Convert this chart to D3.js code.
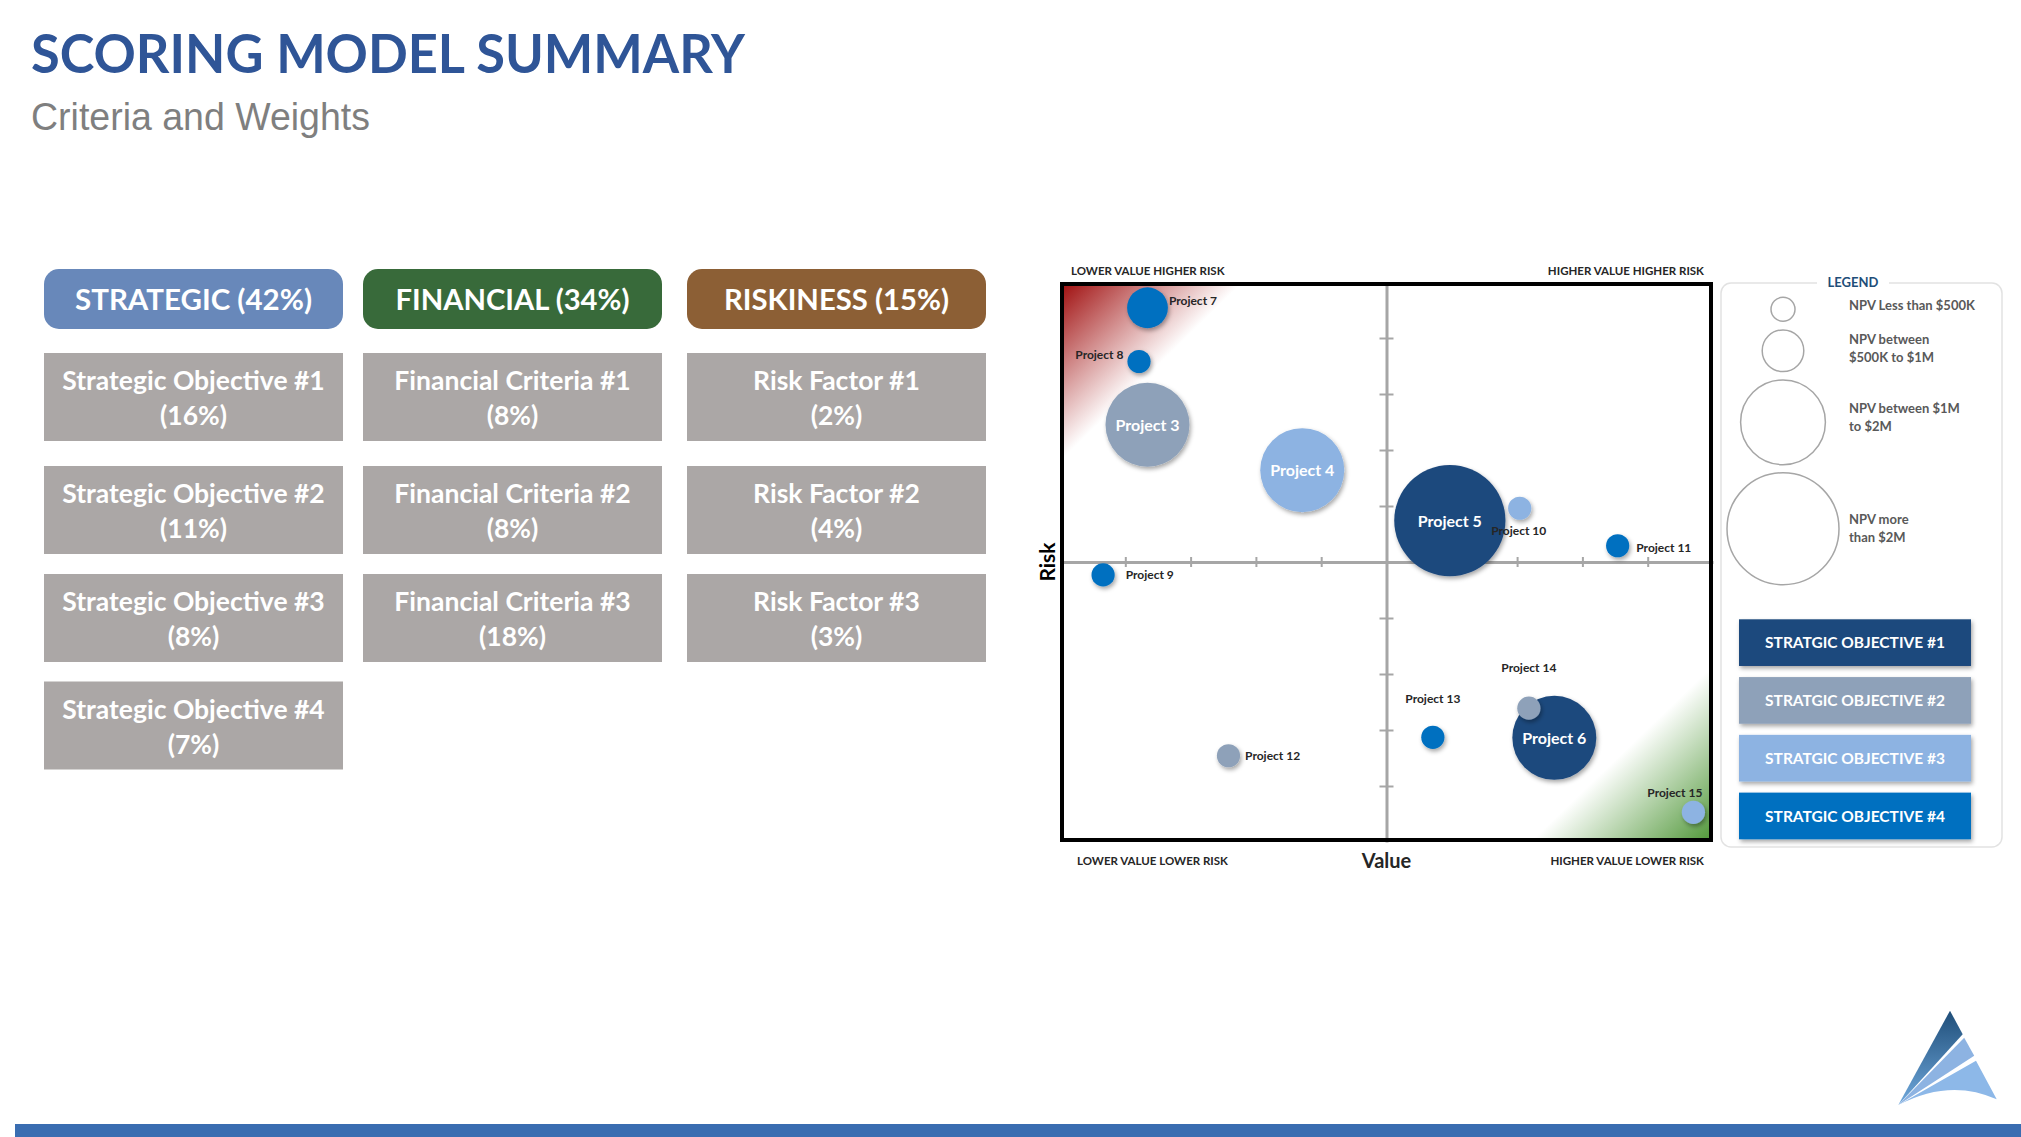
<!DOCTYPE html>
<html><head><meta charset="utf-8">
<script src="https://cdn.jsdelivr.net/npm/d3@7"></script>
<style>
html,body{margin:0;padding:0;background:#fff;}
svg{display:block;}
</style></head>
<body>
<svg id="chart" width="2021" height="1137"></svg>
<script>
// ---------------- data ----------------
const pageTitle = "SCORING MODEL SUMMARY";
const pageSubtitle = "Criteria and Weights";
const categoryNames = ["STRATEGIC", "FINANCIAL", "RISKINESS"];
const categoryWeights = [42, 34, 15];
const strategicCriteria = ["Strategic Objective #1", "Strategic Objective #2", "Strategic Objective #3", "Strategic Objective #4"];
const strategicWeights = [16, 11, 8, 7];
const financialCriteria = ["Financial Criteria #1", "Financial Criteria #2", "Financial Criteria #3"];
const financialWeights = [8, 8, 18];
const riskCriteria = ["Risk Factor #1", "Risk Factor #2", "Risk Factor #3"];
const riskWeights = [2, 4, 3];

const projectNames = ["Project 3", "Project 4", "Project 5", "Project 6", "Project 7", "Project 8", "Project 9", "Project 10", "Project 11", "Project 12", "Project 13", "Project 14", "Project 15"];
const projectValue = [1.34, 3.71, 5.97, 7.57, 1.34, 1.21, 0.66, 7.04, 8.54, 2.58, 5.71, 7.18, 9.70];
const projectRisk  = [7.45, 6.64, 5.74, 1.86, 9.54, 8.58, 4.77, 5.96, 5.29, 1.54, 1.87, 2.39, 0.53];
const projectNpvClass  = [3, 3, 4, 3, 2, 1, 1, 1, 1, 1, 1, 1, 1];
const projectObjective = [2, 3, 1, 1, 4, 4, 4, 3, 4, 2, 4, 2, 3];

const npvClasses = [1, 2, 3, 4];
const npvLabels = [["NPV Less than $500K"], ["NPV between", "$500K to $1M"], ["NPV between $1M", "to $2M"], ["NPV more", "than $2M"]];
const objectiveIds = [1, 2, 3, 4];
const objectiveLabels = ["STRATGIC OBJECTIVE #1", "STRATGIC OBJECTIVE #2", "STRATGIC OBJECTIVE #3", "STRATGIC OBJECTIVE #4"];
const quadrantLabels = ["LOWER VALUE HIGHER RISK", "HIGHER VALUE HIGHER RISK", "LOWER VALUE LOWER RISK", "HIGHER VALUE LOWER RISK"];
const axisTickValues = [1, 2, 3, 4, 6, 7, 8, 9];
const xAxisTitle = "Value";
const yAxisTitle = "Risk";

// ---------------- styles / layout ----------------
const FONT = "Lato, 'Open Sans', sans-serif";
const objectiveColors = ["#1F497D", "#8EA1B9", "#8DB3E2", "#0070C0"];
const npvRadii = [11.6, 20.4, 42, 55.6];
const headerColors = ["#6888BA", "#386A3A", "#8C5F35"];
const boxColor = "#ABA7A6";
const colLefts = [44, 363, 687];
const colWidth = 299;
const rowTops = [353, 466, 574, 681.5];
const rowHeight = 88;
const labelPlacement = {
  "Project 3":  {side: "inside"},
  "Project 4":  {side: "inside"},
  "Project 5":  {side: "inside"},
  "Project 6":  {side: "inside"},
  "Project 7":  {side: "right", off: 1, dy: -3},
  "Project 8":  {side: "left", off: 4, dy: -3},
  "Project 9":  {side: "right", off: 11, dy: 4},
  "Project 10": {side: "center", off: -1, dy: 27},
  "Project 11": {side: "right", off: 7, dy: 6},
  "Project 12": {side: "right", off: 5, dy: 4.5},
  "Project 13": {side: "center", off: 0, dy: -34},
  "Project 14": {side: "center", off: 0, dy: -36.5},
  "Project 15": {side: "end", off: 9, dy: -15.6}
};

const svg = d3.select("#chart");
const defs = svg.append("defs");

function fit(sel, w) { sel.attr("textLength", w).attr("lengthAdjust", "spacingAndGlyphs"); return sel; }

// shadow filter
const sh = defs.append("filter").attr("id", "shadow").attr("x", "-30%").attr("y", "-30%").attr("width", "160%").attr("height", "160%");
sh.append("feDropShadow").attr("dx", 1.5).attr("dy", 2.5).attr("stdDeviation", 2).attr("flood-color", "#000").attr("flood-opacity", 0.35);

// ---------------- title ----------------
fit(svg.append("text").attr("x", 31).attr("y", 73).text(pageTitle)
  .attr("font-family", FONT).attr("font-weight", 700).attr("font-size", 53).attr("fill", "#2F5597"), 714);
fit(svg.append("text").attr("x", 31).attr("y", 130).text(pageSubtitle)
  .attr("font-family", "'Liberation Sans', Arial, sans-serif").attr("font-size", 38).attr("fill", "#7F7F7F"), 339);

// ---------------- criteria boxes ----------------
const headerW = [237, 234, 225];
const columns = [
  {crit: strategicCriteria, w: strategicWeights},
  {crit: financialCriteria, w: financialWeights},
  {crit: riskCriteria, w: riskWeights}
];
categoryNames.forEach((name, i) => {
  const x0 = colLefts[i], bw = colWidth;
  svg.append("rect").attr("x", x0).attr("y", 269).attr("width", bw).attr("height", 60)
    .attr("rx", 15).attr("fill", headerColors[i]);
  fit(svg.append("text").attr("x", x0 + bw / 2).attr("y", 310).attr("text-anchor", "middle")
    .attr("font-family", FONT).attr("font-weight", 700).attr("font-size", 29).attr("fill", "#fff")
    .text(`${name} (${categoryWeights[i]}%)`), headerW[i]);
  const col = columns[i];
  col.crit.forEach((c, j) => {
    const y0 = rowTops[j];
    svg.append("rect").attr("x", x0).attr("y", y0).attr("width", bw).attr("height", rowHeight).attr("fill", boxColor);
    svg.append("text").attr("x", x0 + bw / 2).attr("y", y0 + 37).attr("text-anchor", "middle")
      .attr("font-family", FONT).attr("font-weight", 700).attr("font-size", 26.5).attr("fill", "#fff").text(c);
    svg.append("text").attr("x", x0 + bw / 2).attr("y", y0 + 72).attr("text-anchor", "middle")
      .attr("font-family", FONT).attr("font-weight", 700).attr("font-size", 26.5).attr("fill", "#fff").text(`(${col.w[j]}%)`);
  });
});

// ---------------- bubble chart ----------------
const x = d3.scaleLinear().domain([0, 10]).range([1060, 1713]);
const y = d3.scaleLinear().domain([0, 10]).range([842, 282]);
const r = d3.scaleOrdinal().domain(npvClasses).range(npvRadii);
const color = d3.scaleOrdinal().domain(objectiveIds).range(objectiveColors);

const plot = svg.append("g");
plot.append("clipPath").attr("id", "plotclip").append("rect")
  .attr("x", x(0) + 4).attr("y", y(10) + 4).attr("width", x(10) - x(0) - 8).attr("height", y(0) - y(10) - 8);
plot.append("rect").attr("x", x(0)).attr("y", y(10)).attr("width", x(10) - x(0)).attr("height", y(0) - y(10)).attr("fill", "#fff");

function cornerGradient(id, corner, p1, p2, c0) {
  const dx = p2[0] - p1[0], dy = p2[1] - p1[1];
  const t = ((corner[0] - p1[0]) * dx + (corner[1] - p1[1]) * dy) / (dx * dx + dy * dy);
  const foot = [p1[0] + t * dx, p1[1] + t * dy];
  const g = defs.append("linearGradient").attr("id", id).attr("gradientUnits", "userSpaceOnUse")
    .attr("x1", corner[0]).attr("y1", corner[1]).attr("x2", foot[0]).attr("y2", foot[1]);
  g.append("stop").attr("offset", 0).attr("stop-color", c0);
  g.append("stop").attr("offset", 1).attr("stop-color", "#fff");
  plot.append("path").attr("clip-path", "url(#plotclip)")
    .attr("d", `M${corner}L${p1}L${p2}Z`).attr("fill", `url(#${id})`);
}
cornerGradient("redG", [x(0), y(10)], [x(2.8), y(10)], [x(0), y(6.8)], "#9E0A0A");
cornerGradient("greenG", [x(10), y(0)], [x(7.2), y(0)], [x(10), y(3.15)], "#4E9636");

// axes through centre
const axisColor = "#A6A6A6";
const xAxis = d3.axisBottom(x).tickValues(axisTickValues).tickFormat("").tickSize(5).tickSizeOuter(0);
const gx = plot.append("g").attr("transform", `translate(0,${y(5)})`).call(xAxis);
gx.select(".domain").attr("stroke", axisColor).attr("stroke-width", 3);
gx.selectAll(".tick line").attr("y1", -5).attr("y2", 5).attr("stroke", axisColor).attr("stroke-width", 2);
const yAxis = d3.axisLeft(y).tickValues(axisTickValues).tickFormat("").tickSize(7).tickSizeOuter(0);
const gy = plot.append("g").attr("transform", `translate(${x(5)},0)`).call(yAxis);
gy.select(".domain").attr("stroke", axisColor).attr("stroke-width", 3);
gy.selectAll(".tick line").attr("x1", -7).attr("x2", 7).attr("stroke", axisColor).attr("stroke-width", 2);

// bubbles
const projects = projectNames.map((n, i) => ({name: n, v: projectValue[i], k: projectRisk[i], npv: projectNpvClass[i], obj: projectObjective[i]}));
const sorted = projects.slice().sort((a, b) => r(b.npv) - r(a.npv));
plot.append("g").selectAll("circle").data(sorted).join("circle")
  .attr("cx", d => x(d.v)).attr("cy", d => y(d.k)).attr("r", d => r(d.npv))
  .attr("fill", d => color(d.obj)).attr("filter", "url(#shadow)");

// labels
plot.append("g").selectAll("text").data(projects).join("text")
  .attr("font-family", FONT).attr("font-weight", 700)
  .each(function (d) {
    const p = labelPlacement[d.name], cx = x(d.v), cy = y(d.k), rr = r(d.npv);
    const t = d3.select(this).text(d.name);
    if (p.side === "inside") {
      t.attr("x", cx).attr("y", cy + 6).attr("text-anchor", "middle").attr("font-size", 16).attr("fill", "#fff");
    } else {
      t.attr("font-size", 12).attr("fill", "#262626");
      if (p.side === "right") t.attr("x", cx + rr + p.off).attr("text-anchor", "start");
      else if (p.side === "left") t.attr("x", cx - rr - p.off).attr("text-anchor", "end");
      else if (p.side === "center") t.attr("x", cx + p.off).attr("text-anchor", "middle");
      else t.attr("x", cx + p.off).attr("text-anchor", "end");
      t.attr("y", cy + p.dy);
    }
  });

// border
plot.append("rect").attr("x", x(0) + 2).attr("y", y(10) + 2).attr("width", x(10) - x(0) - 4).attr("height", y(0) - y(10) - 4)
  .attr("fill", "none").attr("stroke", "#000").attr("stroke-width", 4);

// quadrant labels
const qStyle = s => s.attr("font-family", FONT).attr("font-weight", 700).attr("font-size", 11.5).attr("fill", "#262626");
qStyle(plot.append("text").attr("x", x(0) + 11).attr("y", 275).text(quadrantLabels[0]));
qStyle(plot.append("text").attr("x", x(10) - 9).attr("y", 275).attr("text-anchor", "end").text(quadrantLabels[1]));
qStyle(plot.append("text").attr("x", x(0) + 17).attr("y", 865).text(quadrantLabels[2]));
qStyle(plot.append("text").attr("x", x(10) - 9).attr("y", 865).attr("text-anchor", "end").text(quadrantLabels[3]));
plot.append("text").attr("x", x(5)).attr("y", 868).attr("text-anchor", "middle")
  .attr("font-family", FONT).attr("font-weight", 700).attr("font-size", 20).attr("fill", "#262626").text(xAxisTitle);
plot.append("text").attr("transform", `translate(1055,${y(5)}) rotate(-90)`).attr("text-anchor", "middle")
  .attr("font-family", FONT).attr("font-weight", 700).attr("font-size", 21).attr("fill", "#000").text(yAxisTitle);

// ---------------- legend ----------------
const lg = svg.append("g");
lg.append("rect").attr("x", 1721).attr("y", 283).attr("width", 281).attr("height", 564).attr("rx", 10)
  .attr("fill", "#fff").attr("stroke", "#E2E2E2").attr("stroke-width", 1.5);
lg.append("rect").attr("x", 1817).attr("y", 278).attr("width", 72).attr("height", 12).attr("fill", "#fff");
lg.append("text").attr("x", 1853).attr("y", 287).attr("text-anchor", "middle")
  .attr("font-family", FONT).attr("font-weight", 700).attr("font-size", 13).attr("fill", "#1F4E79").text("LEGEND");
const legCy = [309.3, 350.7, 422.3, 528.7];
const legTextY = [310, 344, 413.3, 524];
npvClasses.forEach((c, i) => {
  lg.append("circle").attr("cx", 1783).attr("cy", legCy[i]).attr("r", r(c) + 0.4)
    .attr("fill", "none").attr("stroke", "#A6A6A6").attr("stroke-width", 1.5);
  const t = lg.append("text").attr("font-family", FONT).attr("font-weight", 700).attr("font-size", 13).attr("fill", "#595959");
  npvLabels[i].forEach((line, j) => t.append("tspan").attr("x", 1849).attr("y", legTextY[i] + j * 17.5).text(line));
});
const btn = d3.scaleBand().domain(objectiveIds).range([619.3, 839.3]).paddingInner(0.192);
objectiveIds.forEach((o, i) => {
  lg.append("rect").attr("x", 1739).attr("y", btn(o)).attr("width", 232).attr("height", btn.bandwidth())
    .attr("fill", color(o)).attr("filter", "url(#shadow)");
  lg.append("text").attr("x", 1855).attr("y", btn(o) + 29).attr("text-anchor", "middle")
    .attr("font-family", FONT).attr("font-weight", 700).attr("font-size", 15.5).attr("fill", "#fff").text(objectiveLabels[i]);
});

// ---------------- logo & footer bar ----------------
const lgGrad = defs.append("linearGradient").attr("id", "logoG").attr("x1", 0).attr("y1", 0).attr("x2", 0).attr("y2", 1);
lgGrad.append("stop").attr("offset", 0).attr("stop-color", "#1F4E79");
lgGrad.append("stop").attr("offset", 1).attr("stop-color", "#6FA8DC");
svg.append("path").attr("d", "M1950,1010.7L1962.7,1034.3L1898.3,1105Z").attr("fill", "url(#logoG)");
svg.append("path").attr("d", "M1964.2,1037.7L1974.2,1055.7L1898.3,1105Z").attr("fill", "#8DB3E2");
svg.append("path").attr("d", "M1976,1060.7L1996.7,1099.3Q1950,1078 1898.3,1105Z").attr("fill", "#8DB8E8");
svg.append("rect").attr("x", 15).attr("y", 1124).attr("width", 2006).attr("height", 13).attr("fill", "#3A6DB1");
</script>
</body></html>
